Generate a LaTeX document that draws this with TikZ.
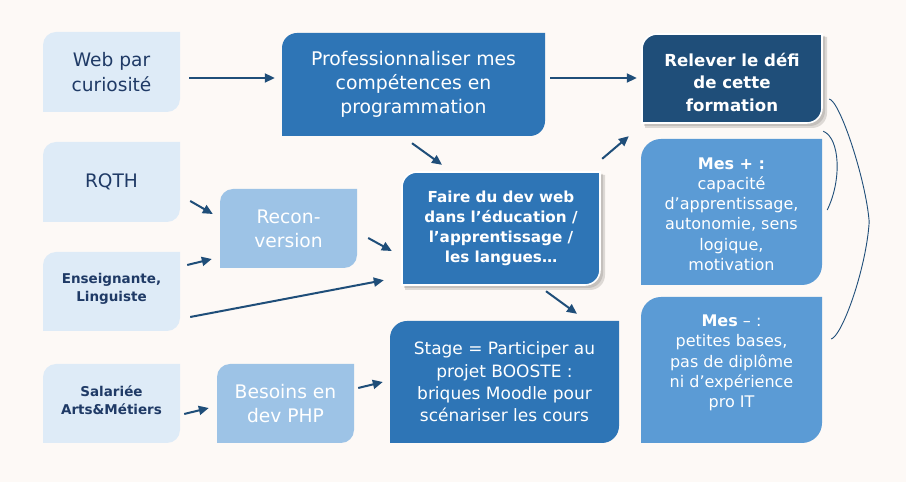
\documentclass[tikz,border=0pt]{standalone}
\usepackage{fontspec}
\setmainfont{DejaVu Sans}
\usetikzlibrary{arrows.meta}
\definecolor{bgc}{RGB}{253,249,246}
\definecolor{lightc}{RGB}{222,235,247}
\definecolor{lmidc}{RGB}{157,195,230}
\definecolor{midc}{RGB}{46,117,182}
\definecolor{skyc}{RGB}{91,155,213}
\definecolor{darkc}{RGB}{31,78,121}
\definecolor{ltxtc}{RGB}{31,58,102}
\definecolor{shadc}{RGB}{110,105,100}
% fill of a box with rounded top-left and bottom-right corners (pixel coords, y down)
\newcommand{\bxfill}[6]{%
  \fill[#1] (#2,482-#5) -- (#2,482-#3-#6) arc[start angle=180,end angle=90,radius=#6pt]
    -- (#4,482-#3) -- (#4,482-#5+#6) arc[start angle=0,end angle=-90,radius=#6pt] -- cycle;}
% style of fill, style of text, name, left, top, right, bottom, radius, text
\newcommand{\mkbox}[9]{%
  \bxfill{#1}{#4}{#5}{#6}{#7}{#8}%
  \node[#2, align=center, inner sep=0pt, minimum width={(#6-#4)*1pt}, minimum height={(#7-#5)*1pt}]
    (#3) at ({(#4+#6)/2},{482-(#5+#7)/2}) {#9};}
\begin{document}
\begin{tikzpicture}[x=1pt,y=1pt,
  arr/.style={draw=darkc, line width=2pt, -{Triangle[length=10pt,width=9pt]}},
  brc/.style={draw=darkc, line width=0.9pt},
  fLight/.style={fill=lightc},
  fLmid/.style={fill=lmidc},
  fMid/.style={fill=midc},
  fMidB/.style={fill=midc, draw=white, line width=1.6pt},
  fSky/.style={fill=skyc},
  fDarkB/.style={fill=darkc, draw=white, line width=1.6pt},
  shad/.style={fill=shadc, opacity=0.22},
  tLeft/.style={text=ltxtc, font=\fontsize{18.6}{25}\selectfont},
  tLeftB/.style={text=ltxtc, font=\bfseries\fontsize{13.5}{18}\selectfont},
  tBig/.style={text=white, font=\fontsize{18.7}{24}\selectfont},
  tProf/.style={text=white, font=\fontsize{18.8}{24}\selectfont},
  tFaire/.style={text=white, font=\bfseries\fontsize{15.2}{20}\selectfont},
  tStage/.style={text=white, font=\fontsize{17}{22.3}\selectfont},
  tRel/.style={text=white, font=\bfseries\fontsize{16.6}{22.5}\selectfont},
  tMes/.style={text=white, font=\fontsize{16}{20.2}\selectfont}
]
\useasboundingbox (0,0) rectangle (906,482);
\fill[bgc] (0,0) rectangle (906,482);

% shadows
\bxfill{shad}{404}{174}{603}{288}{15}
\bxfill{shad}{405}{175}{605}{290}{15}
\bxfill{shad}{644}{36}{825}{126}{15}
\bxfill{shad}{645}{37}{827}{128}{15}

% left column
\mkbox{fLight}{tLeft}{web}{43}{32}{180}{112}{13}{Web par\\curiosité}
\mkbox{fLight}{tLeft}{rqth}{43}{142}{180}{222}{13}{RQTH}
\mkbox{fLight}{tLeftB, yshift=3pt}{ens}{43}{252}{180}{331}{13}{Enseignante,\\Linguiste}
\mkbox{fLight}{tLeftB, yshift=3pt}{sal}{43}{364}{180}{443}{13}{Salariée\\Arts\&Métiers}

% middle
\mkbox{fMid}{tProf}{prof}{282}{33}{545}{136}{15}{Professionnaliser mes\\compétences en\\programmation}
\mkbox{fLmid}{tBig}{recon}{220}{189}{357}{268}{13}{Recon-\\version}
\mkbox{fLmid}{tBig}{besoins}{217}{364}{354}{443}{13}{Besoins en\\dev PHP}
\mkbox{fMidB}{tFaire}{faire}{402}{172}{600}{285}{15}{Faire du dev web\\dans l’éducation /\\l’apprentissage /\\les langues…}
\mkbox{fMid}{tStage}{stage}{390}{321}{619}{443}{17}{Stage = Participer au\\projet BOOSTE :\\briques Moodle pour\\scénariser les cours}

% right column
\mkbox{fDarkB}{tRel, yshift=-3.5pt}{relever}{642}{34}{822}{123}{15}{Relever le défi\\de cette\\formation}
\mkbox{fSky}{tMes, yshift=-2pt}{plus}{641}{139}{822}{285}{20}{\textbf{Mes + :}\\capacité\\d’apprentissage,\\autonomie, sens\\logique,\\motivation}
\mkbox{fSky}{tMes, yshift=7pt}{minus}{641}{297}{822}{443}{20}{\textbf{Mes} – :\\petites bases,\\pas de diplôme\\ni d’expérience\\pro IT}

% arrows
\draw[arr] ([shift={(9,-6)}]web.east) -- ([shift={(-7,6.5)}]prof.west);
\draw[arr] ([shift={(5,6.5)}]prof.east) -- ([shift={(-5,4)}]relever.west);
\draw[arr] ([shift={(-1.5,-7)}]prof.south) -- ([shift={(-59,7)}]faire.north);
\draw[arr] ([shift={(10,-19)}]rqth.east) -- ([shift={(-7,14.5)}]recon.west);
\draw[arr] ([shift={(7,23.5)}]ens.east) -- ([shift={(-8,-30.5)}]recon.west);
\draw[arr] ([shift={(11,-9.5)}]recon.east) -- ([shift={(-10,-22.5)}]faire.west);
\draw[arr] ([shift={(10,-28.5)}]ens.east) -- ([shift={(-18,5)}]faire.south west);
\draw[arr] ([shift={(2,13)}]faire.north east) -- ([shift={(-13,-9.5)}]relever.south west);
\draw[arr] ([shift={(45,-6)}]faire.south) -- ([shift={(72.5,7)}]stage.north);
\draw[arr] ([shift={(4,-13.5)}]sal.east) -- ([shift={(-8,-4.5)}]besoins.west);
\draw[arr] ([shift={(4,15.5)}]besoins.east) -- ([shift={(-7,0)}]stage.west);

% brace-like curves
\draw[brc] ([shift={(1,-4.5)}]relever.south east) .. controls (840,344) and (842,302) .. ([shift={(5,4)}]plus.east);
\draw[brc] ([shift={(7,-17)}]relever.east) .. controls (840,381) and (866,302) .. ([shift={(47,-8)}]plus.east)
  .. controls (866,212) and (842,146) .. ([shift={(9,24)}]minus.east);
\end{tikzpicture}
\end{document}
